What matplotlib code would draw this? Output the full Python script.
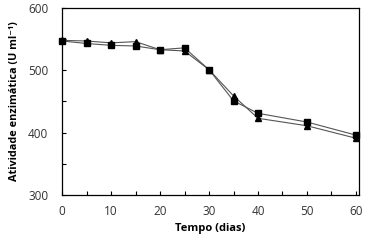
import matplotlib
matplotlib.use("Agg")
import matplotlib.pyplot as plt
from matplotlib.ticker import MultipleLocator

dias = [0, 5, 10, 15, 20, 25, 30, 35, 40, 50, 60]
serie_quadrado = [547, 543, 540, 539, 533, 536, 501, 451, 431, 417, 396]
serie_triangulo = [548, 547, 544, 546, 533, 531, 501, 459, 423, 411, 391]

plt.rcParams['font.family'] = ['Open Sans', 'DejaVu Sans']

fig = plt.figure(figsize=(3.67, 2.41), dpi=100)
ax = fig.add_axes([0.169, 0.191, 0.809, 0.776])

ax.plot(dias, serie_triangulo, color="#555555", lw=0.8, marker="^", ms=5,
        mfc="black", mec="black", clip_on=False)
ax.plot(dias, serie_quadrado, color="#555555", lw=0.8, marker="s", ms=4.5,
        mfc="black", mec="black", clip_on=False)

ax.set_xlim(0, 60.6)
ax.set_ylim(300, 600)
ax.xaxis.set_major_locator(MultipleLocator(10))
ax.xaxis.set_minor_locator(MultipleLocator(5))
ax.yaxis.set_major_locator(MultipleLocator(100))
ax.yaxis.set_minor_locator(MultipleLocator(50))
ax.tick_params(which="both", direction="in", labelsize=8.5, labelcolor="#333333",
               width=0.8, length=3)
ax.tick_params(axis="y", pad=10)
ax.tick_params(axis="x", pad=7)
for s in ax.spines.values():
    s.set_linewidth(0.9)

ax.set_xlabel("Tempo (dias)", fontsize=8, fontweight="bold", labelpad=4)
ax.set_ylabel("Atividade enzimática (U ml⁻¹)", fontsize=7.8, fontweight="bold", labelpad=6)

fig.savefig("out.png", dpi=100)
